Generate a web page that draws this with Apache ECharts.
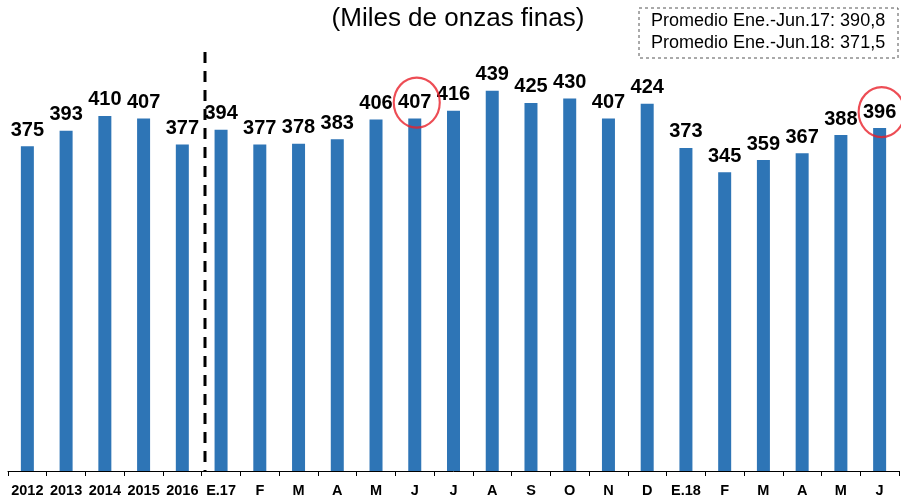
<!DOCTYPE html>
<html><head><meta charset="utf-8">
<script src="https://cdn.jsdelivr.net/npm/echarts@6/dist/echarts.min.js"></script>
<style>html,body{margin:0;padding:0;background:#fff}#c{width:901px;height:498px}</style>
</head><body><div id="c"></div>
<script>
const categories = ['2012','2013','2014','2015','2016','E.17','F','M','A','M','J','J','A','S','O','N','D','E.18','F','M','A','M','J'];
const values = [375,393,410,407,377,394,377,378,383,406,407,416,439,425,430,407,424,373,345,359,367,388,396];
const highlighted = [10, 22];
const titleText = '(Miles de onzas finas)';
const noteLines = ['Promedio Ene.-Jun.17: 390,8', 'Promedio Ene.-Jun.18: 371,5'];

const chart = echarts.init(document.getElementById('c'));
const font = 'Liberation Sans, Arial, sans-serif';
chart.setOption({
  animation: false,
  grid: {left: 8, right: 2, top: 38, bottom: 25.5, containLabel: false},
  xAxis: {
    type: 'category', data: categories,
    axisLine: {lineStyle: {color: '#000', width: 1}},
    axisTick: {show: true, length: 5, lineStyle: {color: '#000'}},
    axisLabel: {color: '#000', fontFamily: font, fontWeight: 'bold', fontSize: 14.5, margin: 12, interval: 0}
  },
  yAxis: {type: 'value', min: 0, max: 500, show: false, splitLine: {show: false}},
  series: [{
    type: 'bar', data: values, barWidth: 13,
    itemStyle: {color: '#2E75B6'},
    label: {show: true, position: 'top', distance: 6, color: '#000', fontFamily: font, fontWeight: 'bold', fontSize: 20}
  }, {
    type: 'scatter',
    data: highlighted.map(i => [i, values[i]]),
    symbol: 'circle', symbolSize: [46, 50], symbolOffset: [2, -16],
    itemStyle: {color: 'rgba(0,0,0,0)', borderColor: '#E8202A', borderWidth: 2.2},
    z: 5
  }],
  graphic: [
    {type: 'text', x: 458, y: 6, style: {text: titleText, align: 'center', fontFamily: font, fontSize: 26, fill: '#000'}},
    {type: 'line', shape: {x1: 205, y1: 52, x2: 205, y2: 472}, style: {stroke: '#000', lineWidth: 3, lineDash: [11, 8]}, z: 10},
    {type: 'rect', shape: {x: 639, y: 8, width: 259, height: 50}, style: {fill: 'none', stroke: '#555', lineWidth: 1, lineDash: [3, 3]}},
    {type: 'text', left: 651, top: 12, style: {text: noteLines[0], fontFamily: font, fontSize: 18, fill: '#000'}},
    {type: 'text', left: 651, top: 34, style: {text: noteLines[1], fontFamily: font, fontSize: 18, fill: '#000'}}
  ]
});
</script></body></html>
